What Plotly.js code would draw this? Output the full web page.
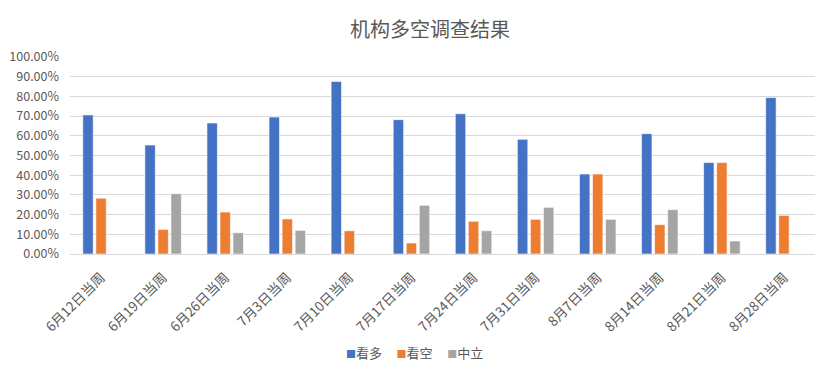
<!DOCTYPE html>
<html><head><meta charset="utf-8">
<script src="https://cdn.plot.ly/plotly-3.0.1.min.js"></script>
<style>html,body{margin:0;padding:0;background:#fff}#c{width:830px;height:374px}</style>
</head><body><div id="c"></div>
<script>
const categories = ["6月12日当周","6月19日当周","6月26日当周","7月3日当周","7月10日当周","7月17日当周","7月24日当周","7月31日当周","8月7日当周","8月14日当周","8月21日当周","8月28日当周"];
const bullish = [70.6, 55.3, 66.5, 69.5, 87.6, 68.2, 71.2, 58.2, 40.6, 61.1, 46.4, 79.4];
const bearish = [28.3, 12.5, 21.3, 17.8, 11.8, 5.6, 16.6, 17.6, 40.6, 14.9, 46.4, 19.6];
const neutral = [null, 30.6, 10.8, 12.0, null, 24.7, 11.8, 23.7, 17.6, 22.5, 6.6, null];
const seriesNames = ["看多","看空","中立"];
const colors = ["#4472C4","#ED7D31","#A5A5A5"];
const font = "'Noto Sans CJK SC', 'Microsoft YaHei', sans-serif";
const data = [bullish, bearish, neutral].map((v,i)=>({
  type:'bar', x:categories, y:v, name:seriesNames[i],
  marker:{color:colors[i], line:{color:'rgba(255,255,255,0.6)', width:1}},
  hovertemplate:'%{y:.2f}%<extra></extra>'
}));
const legendText = seriesNames.map((n,i)=>'<span style="color:'+colors[i]+';font-size:10px">■</span>'+n).join('&nbsp;&nbsp;&nbsp;&nbsp;&nbsp;');
const layout = {
  width:830, height:374,
  margin:{l:70, r:15, t:57, b:120},
  paper_bgcolor:'#fff', plot_bgcolor:'#fff',
  font:{family:font, color:'#595959', size:12},
  title:{text:'机构多空调查结果', font:{family:font, size:20, color:'#595959'}, xref:'container', x:0.518, xanchor:'center', yref:'container', y:0.92, yanchor:'middle'},
  barmode:'group', bargap:0.37, bargroupgap:0.2,
  xaxis:{type:'category', tickangle:-45, showgrid:false, showline:false, ticks:'', ticklabelstandoff:12, tickfont:{size:13.5, color:'#595959'}, automargin:false},
  yaxis:{range:[0,100], dtick:10, tickformat:'.2f', ticksuffix:'%', gridcolor:'#D9D9D9', gridwidth:1, zeroline:true, zerolinecolor:'#D9D9D9', showline:false, ticks:'', ticklabelstandoff:10, tickfont:{size:12.5, color:'#595959'}, automargin:false},
  showlegend:false,
  annotations:[{text:legendText, xref:'paper', yref:'paper', x:0.463, y:-0.5, xanchor:'center', yanchor:'middle', showarrow:false, font:{family:font, size:13, color:'#595959'}}]
};
Plotly.newPlot('c', data, layout, {displayModeBar:false, staticPlot:true});
</script></body></html>
